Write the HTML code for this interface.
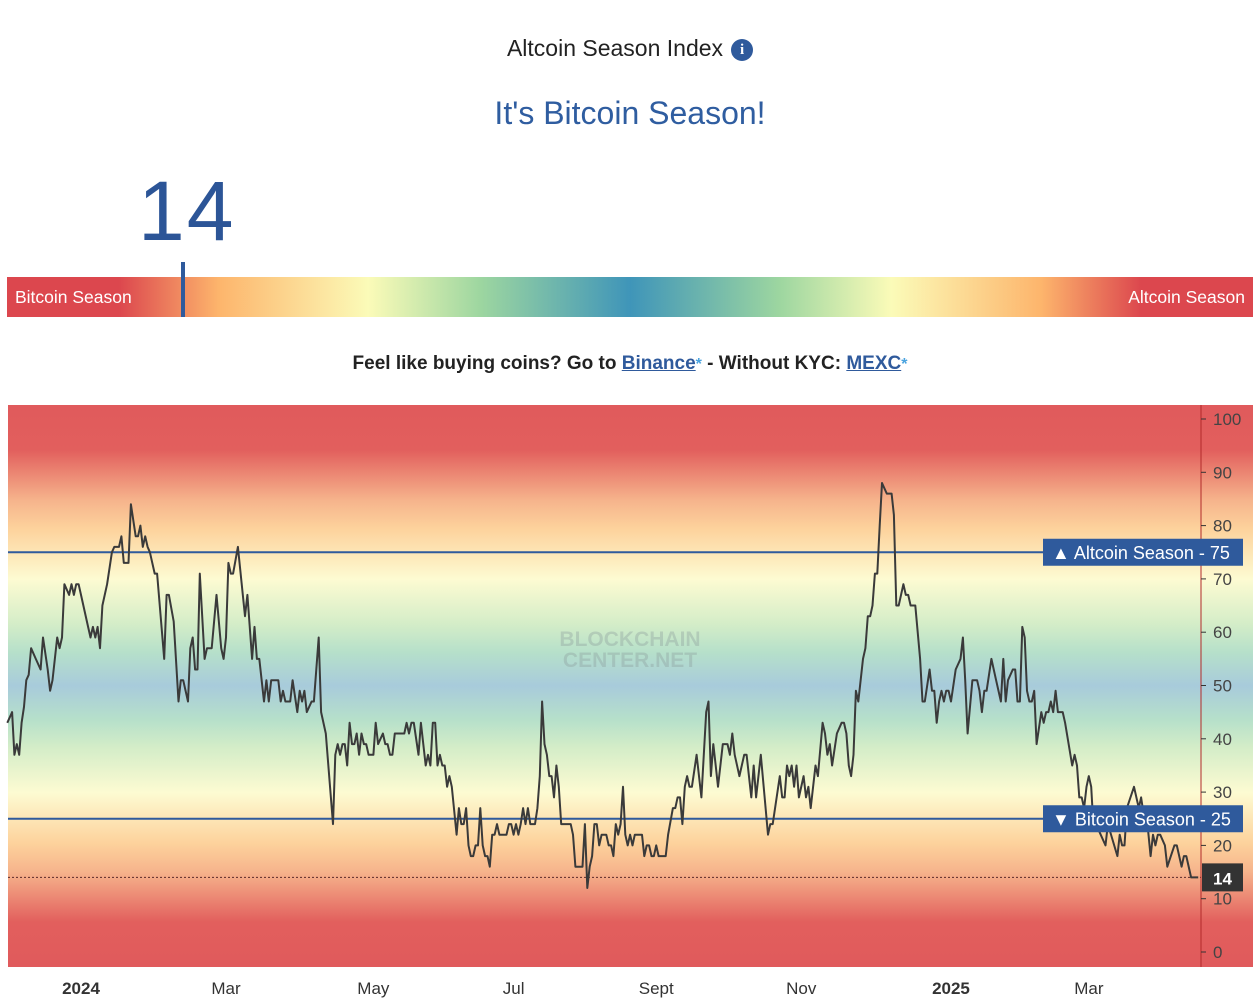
<!DOCTYPE html>
<html><head><meta charset="utf-8">
<style>
html,body{margin:0;padding:0;background:#fff;width:1260px;height:1008px;overflow:hidden;font-family:"Liberation Sans",sans-serif;}
#title{position:absolute;left:0;width:1260px;top:35px;text-align:center;font-size:23px;color:#222;}
#info{display:inline-block;width:22px;height:22px;border-radius:50%;background:#2f5a9c;color:#fff;font-size:15px;font-weight:bold;line-height:22px;text-align:center;vertical-align:2px;margin-left:8px;font-family:"Liberation Serif",serif;}
#season{position:absolute;left:0;width:1260px;top:95px;text-align:center;font-size:32px;color:#2f5da0;}
#bignum{position:absolute;left:138px;top:163px;font-size:84px;color:#2c5597;letter-spacing:2px;}
#bar{position:absolute;left:7px;top:277px;width:1246px;height:40px;background:linear-gradient(90deg,#dc474e 0%,#dc474e 9%,#fdb56c 17%,#fbfbb8 29%,#9dd6a0 38%,#3f95b9 50%,#9dd6a0 62%,#fbfbb8 71%,#fdb56c 83%,#dc474e 91%,#dc474e 100%);}
.bl{position:absolute;top:10px;color:#fff;font-size:17.5px;}
#marker{position:absolute;left:181px;top:262px;width:4px;height:55px;background:#2f5a9c;}
#buy{position:absolute;left:0;width:1260px;top:353px;text-align:center;font-size:19px;font-weight:bold;color:#222;}
#buy a{color:#2f5a9c;text-decoration:underline;}
#buy sup{color:#4aa3df;font-size:16px;vertical-align:0;}
svg{position:absolute;left:0;top:0;}
</style></head><body>
<div id="title">Altcoin Season Index<span id="info">i</span></div>
<div id="season">It's Bitcoin Season!</div>
<div id="bignum">14</div>
<div id="bar">
 <span class="bl" style="left:8px">Bitcoin Season</span>
 <span class="bl" style="right:8px">Altcoin Season</span>
</div>
<div id="marker"></div>
<div id="buy">Feel like buying coins? Go to <a>Binance</a><sup>*</sup> - Without KYC: <a>MEXC</a><sup>*</sup></div>

<svg id="chart" width="1260" height="1008">
 <defs>
  <linearGradient id="bg" x1="0" y1="405" x2="0" y2="967" gradientUnits="userSpaceOnUse">
   <stop offset="0" stop-color="#e05a5c"/>
   <stop offset="0.08" stop-color="#e25f5d"/>
   <stop offset="0.17" stop-color="#f6b48c"/>
   <stop offset="0.22" stop-color="#fdd29c"/>
   <stop offset="0.31" stop-color="#fdfbd2"/>
   <stop offset="0.39" stop-color="#d4edc8"/>
   <stop offset="0.44" stop-color="#b6e0ca"/>
   <stop offset="0.50" stop-color="#a8cbdb"/>
   <stop offset="0.56" stop-color="#b6e0ca"/>
   <stop offset="0.61" stop-color="#d4edc8"/>
   <stop offset="0.69" stop-color="#fdfbd2"/>
   <stop offset="0.78" stop-color="#fdd29c"/>
   <stop offset="0.83" stop-color="#f6b48c"/>
   <stop offset="0.92" stop-color="#e25f5d"/>
   <stop offset="1" stop-color="#e05a5c"/>
  </linearGradient>
 </defs>
 <rect x="8" y="405" width="1245" height="562" fill="url(#bg)"/>
 <text x="630" y="646" text-anchor="middle" font-size="21" font-weight="bold" fill="#8a9a9a" opacity="0.35">BLOCKCHAIN</text>
 <text x="630" y="667" text-anchor="middle" font-size="21" font-weight="bold" fill="#8a9a9a" opacity="0.35">CENTER.NET</text>
 <g id="grid"></g>
 <g id="series"></g>
 <g id="yaxis"></g>
 <g id="xaxis"></g>
</svg>
<script>
const days = [-31,-29,-28,-27,-26,-25,-24,-23,-22,-21,-19,-17,-16,-14,-13,-12,-10,-9,-8,-7,-5,-4,-3,-2,-1,0,3,4,5,6,7,8,9,11,13,14,16,17,18,20,21,23,24,25,26,27,28,29,31,32,35,36,37,39,41,42,43,45,46,47,48,49,50,52,53,55,57,59,60,61,62,63,64,66,69,70,72,73,74,75,77,78,79,80,83,84,85,86,88,89,91,92,93,94,95,97,98,100,101,103,106,107,108,109,110,111,112,113,114,115,116,117,118,119,120,121,123,124,125,127,128,129,130,131,132,134,136,137,138,139,140,142,143,145,146,147,148,149,150,151,152,153,154,155,156,158,159,160,161,162,163,164,165,166,167,168,169,170,171,172,173,174,175,176,179,180,181,182,183,184,185,186,187,188,189,191,192,193,194,195,196,197,198,199,200,201,202,206,207,208,211,212,213,214,215,216,217,218,219,221,222,223,224,225,226,227,228,229,230,231,232,233,236,237,238,239,240,241,242,243,246,247,249,250,251,252,253,254,255,256,257,259,261,263,264,265,266,267,268,270,272,273,274,275,277,279,280,282,283,284,286,289,290,291,294,295,296,297,298,299,300,301,302,304,305,306,307,309,310,312,313,314,315,316,318,320,321,322,323,324,325,326,327,329,330,331,332,333,334,335,336,337,339,341,342,343,344,346,347,348,349,351,353,354,355,357,358,359,360,361,362,363,364,365,366,368,370,371,372,373,375,377,378,379,380,381,383,385,387,388,389,390,392,393,394,395,396,397,398,399,400,401,402,404,405,406,407,408,409,410,411,413,414,417,418,419,420,421,422,423,424,425,426,427,429,431,432,436,437,438,439,440,443,445,446,447,448,450,451,452,453,454,456,457,460,461,463,464,465,467,470];
const values = [43,45,37,39,37,43,46,51,52,57,55,53,59,53,49,51,59,57,59,69,67,69,67,69,69,67,61,59,61,59,61,57,65,69,75,76,76,78,73,73,84,78,78,80,76,78,76,75,71,71,55,67,67,62,47,51,51,47,57,59,53,53,71,55,57,57,67,57,55,59,73,71,71,76,63,67,55,61,55,55,47,51,47,51,51,47,49,47,47,51,45,49,47,49,45,47,47,59,45,41,24,37,39,37,39,39,35,43,39,39,41,37,41,39,39,37,37,43,39,41,39,39,37,37,41,41,41,43,41,43,43,37,43,35,37,35,43,43,35,37,35,35,31,33,31,22,27,24,24,27,20,18,18,20,20,27,20,18,18,16,22,22,24,22,22,24,24,22,24,22,24,27,24,27,24,24,27,33,47,39,37,33,33,29,35,31,24,24,22,16,16,24,12,16,18,24,24,20,22,22,20,20,18,24,22,24,31,22,20,22,20,22,22,18,20,20,18,18,20,18,18,22,27,27,29,29,24,31,33,31,31,37,29,45,47,33,39,35,31,39,39,37,41,37,33,37,37,29,35,29,37,22,24,24,33,29,29,35,33,35,31,35,29,33,29,31,27,35,33,43,41,37,39,35,41,43,43,41,35,33,37,49,47,55,57,63,63,65,71,71,80,88,86,86,82,65,65,69,67,67,65,65,55,47,47,53,49,49,43,47,49,47,49,49,47,53,55,59,51,41,51,51,49,45,49,49,55,51,47,55,47,51,53,53,47,47,61,59,49,47,47,49,39,45,43,45,45,47,45,49,45,45,43,35,37,35,29,29,27,31,33,31,23,24,22,20,24,18,22,20,20,27,31,27,29,26,27,18,22,20,22,22,20,16,20,20,16,18,18,14,14];
const yTicks = [0,10,20,30,40,50,60,70,80,90,100];
const xTickDays = [0,61,123,182,242,303,366,424];
const xTickLabels = ["2024","Mar","May","Jul","Sept","Nov","2025","Mar"];
const xTickBold = [true,false,false,false,false,false,true,false];
const thresholds = [75,25];
const thresholdLabels = ["\u25B2 Altcoin Season  -  75","\u25BC Bitcoin Season  -  25"];
const currentValue = 14;

const NS="http://www.w3.org/2000/svg";
const X0=8, X1=1201;
function xScale(d){ return 81 + d*2.377; }
function yScale(v){ return 952 - v*5.33; }
function mk(tag,attrs,parent,txt){const e=document.createElementNS(NS,tag);for(const k in attrs)e.setAttribute(k,attrs[k]);if(txt!==undefined)e.textContent=txt;parent.appendChild(e);return e;}

const grid=document.getElementById('grid');
thresholds.forEach((t,i)=>{
  const l=mk('line',{x1:X0,x2:X1,y1:yScale(t),y2:yScale(t),stroke:'#2f5a9c','stroke-width':2},grid);
  
  
});
const cl=mk('line',{x1:X0,x2:X1,y1:yScale(currentValue),y2:yScale(currentValue),stroke:'#5a2a2a','stroke-width':1,'stroke-dasharray':'2,2'},grid);



const series=document.getElementById('series');
let d='';
days.forEach((dy,i)=>{ d+=(i?'L':'M')+xScale(dy).toFixed(1)+','+yScale(values[i]).toFixed(1); });
const path=mk('path',{d:d,fill:'none',stroke:'#3a3a3a','stroke-width':2,'stroke-linejoin':'round'},series);



const yax=document.getElementById('yaxis');
const axl=mk('line',{x1:X1,x2:X1,y1:405,y2:967,stroke:'#b22a2a','stroke-width':1},yax);


yTicks.forEach(t=>{
  const y=yScale(t);
  mk('line',{x1:X1,x2:X1+5,y1:y,y2:y,stroke:'#333','stroke-width':1},yax);
  const tx=mk('text',{x:1213,y:y+6,'font-size':17,fill:'#444'},yax,String(t));
  
  
});
thresholds.forEach((t,i)=>{
  const y=yScale(t);
  const r=mk('rect',{x:1043,y:y-13.5,width:200,height:27,fill:'#2f5a9c'},yax);
  
  
  const tx=mk('text',{x:1052,y:y+6.5,'font-size':18,fill:'#fff','xml:space':'preserve'},yax,thresholdLabels[i]);
  
  
});
const cy=yScale(currentValue);
const cr=mk('rect',{x:1202,y:cy-14,width:41,height:28,fill:'#333'},yax);


const ct=mk('text',{x:1213,y:cy+7,'font-size':17,fill:'#fff','font-weight':'bold'},yax,String(currentValue));



const xax=document.getElementById('xaxis');
xTickDays.forEach((dy,i)=>{
  const tx=mk('text',{x:xScale(dy),y:994,'font-size':17,fill:'#333','text-anchor':'middle','font-weight':xTickBold[i]?'bold':'normal'},xax,xTickLabels[i]);
  
  
});
</script>
</body></html>
